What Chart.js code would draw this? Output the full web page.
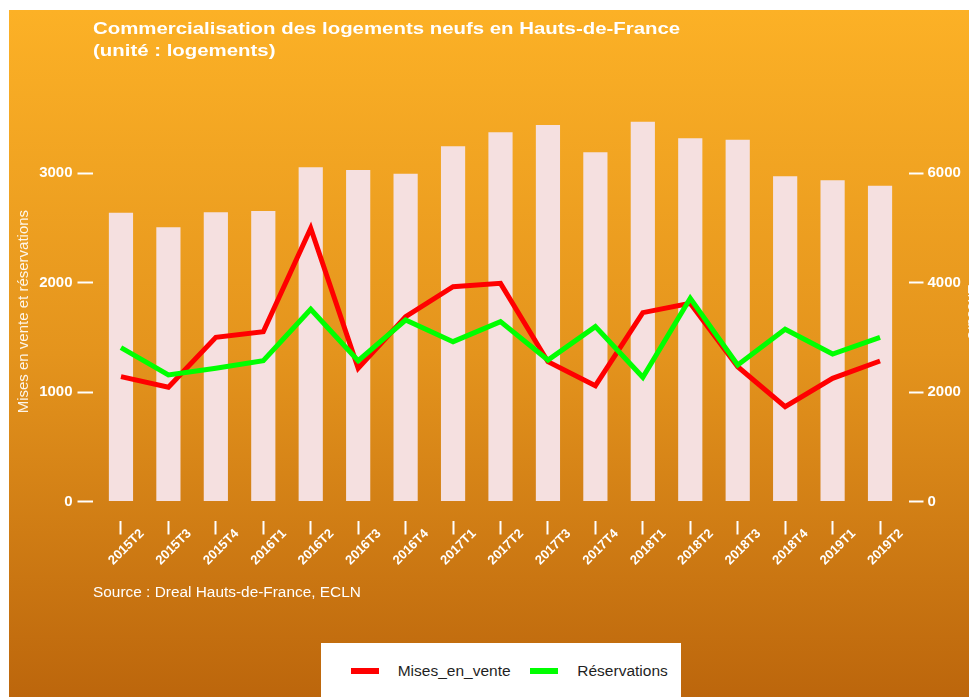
<!DOCTYPE html>
<html>
<head>
<meta charset="utf-8">
<script src="https://cdn.jsdelivr.net/npm/chart.js@4"></script>
<style>
  html, body { margin: 0; padding: 0; background: #fff; overflow: hidden; width: 969px; height: 697px; }
  #bg { position: absolute; left: 9px; top: 10px; width: 960px; height: 687px;
        background: linear-gradient(to bottom, #fcb126 0%, #e4941d 50%, #bc660c 100%); }
  #wrap { position: absolute; left: 0; top: 0; width: 1000px; height: 697px; }
  #title { position: absolute; left: 93px; top: 17.6px; color: #fff; white-space: nowrap;
           font: bold 17px "Liberation Sans", Arial, sans-serif; line-height: 22px;
           transform: scaleX(1.2); transform-origin: 0 0; }
  #source { position: absolute; left: 93px; top: 584.4px; color: #fff; white-space: nowrap;
            font: 14px "Liberation Sans", Arial, sans-serif; line-height: 16px;
            transform: scaleX(1.1); transform-origin: 0 0; }
  #legend { position: absolute; left: 320.5px; top: 642.5px; width: 360.5px; height: 60px; background: #fff; }
  .swatch { position: absolute; top: 25.5px; height: 5.5px; width: 27.5px; }
  .lab { position: absolute; top: 19px; font: 15.5px "Liberation Sans", Arial, sans-serif; line-height: 18px; color: #1f1f1f; white-space: nowrap; }
</style>
</head>
<body>
<div id="bg"></div>
<div id="wrap"><canvas id="chart" width="1000" height="697"></canvas></div>
<div id="title">Commercialisation des logements neufs en Hauts-de-France<br>(unité : logements)</div>
<div id="source">Source : Dreal Hauts-de-France, ECLN</div>
<div id="legend"></div>
<script>
const quarters = ['2015T2', '2015T3', '2015T4', '2016T1', '2016T2', '2016T3', '2016T4', '2017T1', '2017T2',
                  '2017T3', '2017T4', '2018T1', '2018T2', '2018T3', '2018T4', '2019T1', '2019T2'];
const misesEnVente = [1141, 1044, 1501, 1552, 2497, 1218, 1689, 1963, 1994, 1278, 1059, 1726, 1812, 1232, 867, 1126, 1284];
const reservations = [1406, 1156, 1218, 1287, 1757, 1287, 1659, 1461, 1644, 1293, 1598, 1135, 1857, 1248, 1574, 1348, 1501];
const encours = [5280, 5013, 5287, 5311, 6110, 6060, 5993, 6494, 6750, 6883, 6384, 6943, 6640, 6614, 5945, 5872, 5773];

const leftTicks = [0, 1000, 2000, 3000];
const rightTicks = [0, 2000, 4000, 6000];

Chart.defaults.font.family = '"Liberation Sans", Arial, sans-serif';
Chart.defaults.color = '#fff';

const pts = arr => arr.map((v, i) => ({ x: i, y: v }));

const ctx = document.getElementById('chart').getContext('2d');

const chart = new Chart(ctx, {
    type: 'bar',
    data: {
        datasets: [
            {
                type: 'line',
                label: 'Réservations',
                data: pts(reservations),
                yAxisID: 'y',
                borderColor: '#00ff00',
                borderWidth: 5,
                pointRadius: 0,
                borderJoinStyle: 'miter',
                order: 0
            },
            {
                type: 'line',
                label: 'Mises_en_vente',
                data: pts(misesEnVente),
                yAxisID: 'y',
                borderColor: '#ff0000',
                borderWidth: 5,
                pointRadius: 0,
                borderJoinStyle: 'miter',
                order: 1
            },
            {
                label: 'Encours',
                data: pts(encours),
                yAxisID: 'y2',
                backgroundColor: 'rgb(245,224,224)',
                barPercentage: 0.51,
                categoryPercentage: 1,
                order: 2
            }
        ]
    },
    options: {
        responsive: false,
        animation: false,
        layout: { padding: { top: 102.7, left: 0, right: 0, bottom: 0 } },
        plugins: { legend: { display: false }, tooltip: { enabled: false } },
        scales: {
            x: {
                type: 'linear',
                min: -0.6,
                max: 16.6,
                offset: false,
                afterBuildTicks: s => { s.ticks = quarters.map((q, i) => ({ value: i })); },
                afterFit: s => { s.height = 176.5; },
                border: { display: false },
                grid: { offset: false, drawOnChartArea: false, drawTicks: true, tickLength: 14, tickWidth: 2, tickColor: '#fff' },
                ticks: {
                    autoSkip: false,
                    minRotation: 45,
                    maxRotation: 45,
                    labelOffset: 21,
                    padding: -8.5,
                    color: '#fff',
                    font: { size: 13, weight: 'bold' },
                    callback: v => quarters[v]
                }
            },
            y: {
                position: 'left',
                min: -173.6,
                max: 3645,
                afterBuildTicks: s => { s.ticks = leftTicks.map(v => ({ value: v })); },
                afterFit: s => { s.width = 92.5; },
                border: { display: false },
                grid: { drawOnChartArea: false, drawTicks: true, tickLength: 15, tickWidth: 2, tickColor: '#fff' },
                ticks: { padding: 5, color: '#fff', font: { size: 15, weight: 'bold' }, callback: v => String(v) },
                title: {
                    display: true,
                    text: 'Mises en vente et réservations',
                    color: 'rgba(255,255,255,0.9)',
                    font: { size: 15 },
                    padding: { top: 14.5, bottom: 0 }
                }
            },
            y2: {
                position: 'right',
                min: -347.2,
                max: 7290,
                afterBuildTicks: s => { s.ticks = rightTicks.map(v => ({ value: v })); },
                afterFit: s => { s.width = 91.5; },
                border: { display: false },
                grid: { drawOnChartArea: false, drawTicks: true, tickLength: 15, tickWidth: 2, tickColor: '#fff' },
                ticks: { padding: 4, color: '#fff', font: { size: 15, weight: 'bold' }, callback: v => String(v) },
                title: {
                    display: true,
                    text: 'Encours',
                    color: 'rgba(255,255,255,0.9)',
                    font: { size: 15 },
                    padding: { top: 19, bottom: 0 }
                }
            }
        }
    }
});

// legend box, built from the two line datasets
const legend = document.getElementById('legend');
const items = [
    { ds: chart.data.datasets[1], sw: 30.5, tx: 77.2 },
    { ds: chart.data.datasets[0], sw: 209.5, tx: 256.8 }
];
items.forEach(it => {
    const s = document.createElement('div');
    s.className = 'swatch';
    s.style.left = it.sw + 'px';
    s.style.background = it.ds.borderColor;
    legend.appendChild(s);
    const t = document.createElement('div');
    t.className = 'lab';
    t.style.left = it.tx + 'px';
    t.textContent = it.ds.label;
    legend.appendChild(t);
});
</script>
</body>
</html>
